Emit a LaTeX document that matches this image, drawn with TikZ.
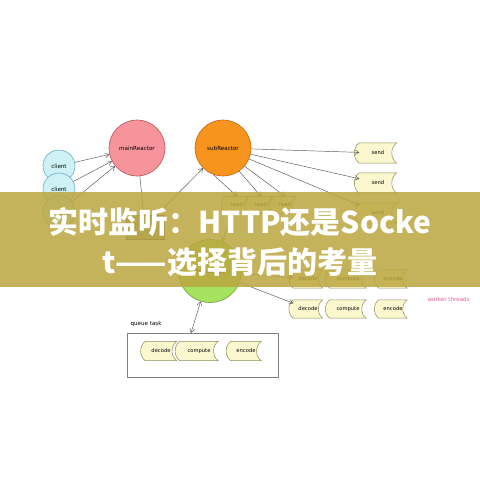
\documentclass[tikz,border=0pt]{standalone}
\usepackage{fontspec}
\setmainfont{DejaVu Sans}
\newfontfamily\cjk{Noto Sans CJK SC}
\usetikzlibrary{arrows.meta,shapes.misc,backgrounds}

\definecolor{clientfill}{HTML}{CDF1F5}
\definecolor{clientline}{HTML}{6AAFBE}
\definecolor{mainfill}{HTML}{F7939B}
\definecolor{mainline}{HTML}{B6505C}
\definecolor{subfill}{HTML}{F7941E}
\definecolor{subline}{HTML}{C4660E}
\definecolor{poolfill}{HTML}{A5E25E}
\definecolor{poolline}{HTML}{6E9E3C}
\definecolor{taskfill}{HTML}{FBF8CF}
\definecolor{taskline}{HTML}{8E8C5C}
\definecolor{accfill}{HTML}{A4A4A4}
\definecolor{bannerfill}{HTML}{BBA640}
\definecolor{workerpink}{HTML}{E2609E}
\definecolor{wiregray}{HTML}{555555}

\tikzset{
  small/.style={font=\fontsize{5.6}{7}\selectfont},
  reactor/.style={draw=#1line, fill=#1fill, shape=circle, minimum size=56pt, inner sep=0pt, line width=0.6pt, small},
  client/.style={reactor=client, minimum size=32pt},
  acc/.style={draw=wiregray, fill=accfill, shape=chamfered rectangle, chamfered rectangle xsep=5pt,
    chamfered rectangle ysep=6pt, minimum width=38pt, minimum height=24pt, inner sep=0pt},
  tasktext/.style={inner sep=0pt, small, font=\fontsize{5.2}{6}\selectfont},
  taskedge/.style={draw=taskline, fill=taskfill, line width=0.5pt},
  wire/.style={draw=wiregray, line width=0.45pt},
  flow/.style={wire, -{Straight Barb[length=4pt,width=5pt]}},
  titletext/.style={text=white, font=\fontsize{30}{36}\selectfont\cjk\bfseries, inner sep=0pt}
}

% task box with curved ends
\newcommand{\taskbox}[5]{%
  \node(#1)[tasktext, minimum width=#3, minimum height=#4] at (#2) {#5};
  \begin{scope}[on background layer]
    \draw[taskedge] (#1.north west) to[bend right=55] (#1.south west) -- (#1.south east)
      to[bend left=55] (#1.north east) -- cycle;
  \end{scope}}

\begin{document}
\begin{tikzpicture}[x=1pt, y=-1pt]
\begin{scope}[on background layer]
  \fill[white] (0,0) rectangle (480,480);
\end{scope}
\useasboundingbox (0,0) rectangle (480,480);

\node(c1)[client] at (59,166) {client};
\node(c2)[client] at (59,189) {client};
\node(c3)[client] at (59,212) {};
\node(main)[reactor=main] at (137,148) {mainReactor};
\node(sub)[reactor=sub] at (223,148) {subReactor};
\node(acceptor)[acc] at (145,227) {};
\node(pool)[reactor=pool, minimum size=63pt] at (210,271) {Thread Pool};

\taskbox{read1}{237,205}{22pt}{17pt}{read}
\taskbox{read2}{261,205}{22pt}{17pt}{read}
\taskbox{read3}{285,205}{22pt}{17pt}{read}
\taskbox{send1}{378,153}{37pt}{20pt}{send}
\taskbox{send2}{378,183}{37pt}{20pt}{send}
\taskbox{send3}{378,213}{37pt}{20pt}{send}

\taskbox{dec1}{308,279}{29pt}{18pt}{decode}
\taskbox{com1}{348,279}{36pt}{18pt}{compute}
\taskbox{enc1}{393,279}{28pt}{18pt}{encode}
\taskbox{dec2}{308,309}{29pt}{18pt}{decode}
\taskbox{com2}{348,309}{36pt}{18pt}{compute}
\taskbox{enc2}{393,309}{28pt}{18pt}{encode}
\node(workers)[anchor=west, small, text=workerpink] at (424,299) {worker threads};

\node(qlabel)[anchor=west, small] at (127,324) {queue task};
\node(queue)[draw=gray, line width=0.5pt, minimum width=151pt, minimum height=44pt] at (202.5,355) {};
\taskbox{qdec}{161,351}{31pt}{19pt}{decode}
\taskbox{qcom}{199,351}{38pt}{19pt}{compute}
\taskbox{qenc}{246,351}{30pt}{19pt}{encode}
\coordinate(qtop) at (191,333);

\draw[flow] (c1) -- (main);
\draw[flow] (c2) -- (main);
\draw[flow] (c3) -- (main);
\draw[wire] (main) -- (acceptor);
\draw[flow] (acceptor) -- (sub);
\draw[flow] (sub.250) -- (read1.north);
\draw[flow] (sub.305) -- (read2.north);
\draw[flow] (sub.320) -- (read3.north);
\draw[flow] (sub) -- (send1);
\draw[flow] (sub) -- (send2);
\draw[flow] (sub) -- (send3);
\draw[flow] (read1) -- (pool);
\draw[flow] (pool) -- (dec1);
\draw[flow] (pool) -- (dec2);
\draw[wire, {Straight Barb[length=4pt,width=5pt]}-{Straight Barb[length=4pt,width=5pt]}] (pool) -- (qtop);

\fill[bannerfill, opacity=0.85] (0,192) rectangle (480,287);
\node(title1)[titletext] at (240,222) {实时监听：HTTP还是Socke};
\node(title2)[titletext] at (240,262) {t——选择背后的考量};
\end{tikzpicture}
\end{document}
